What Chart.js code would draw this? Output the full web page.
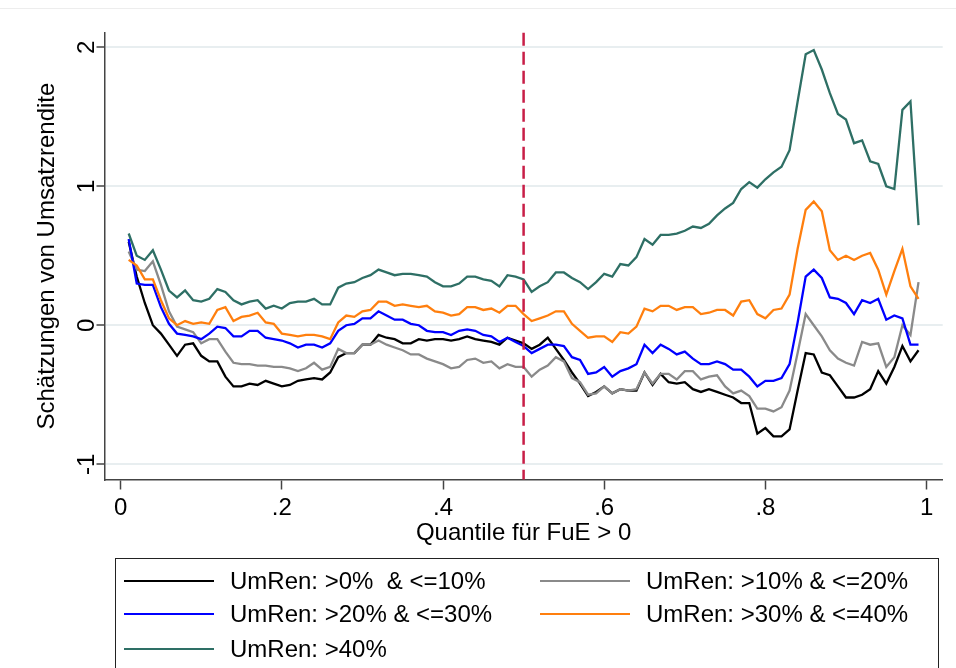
<!DOCTYPE html>
<html>
<head>
<meta charset="utf-8">
<script src="https://cdn.jsdelivr.net/npm/chart.js@4.4.0/dist/chart.umd.min.js"></script>
<style>
body { margin: 0; background: #fff; }
#wrap { position: relative; width: 956px; height: 668px; overflow: hidden; font-family: "Liberation Sans", Arial, sans-serif; }
#topline { position: absolute; left: 0; top: 8px; width: 956px; height: 1px; background: #ededed; }
#box { position: absolute; left: 115px; top: 558px; width: 824px; height: 140px; border: 1.5px solid #222; box-sizing: border-box; }
.sw { position: absolute; width: 90px; height: 2.5px; }
.lbl { position: absolute; font-size: 24px; line-height: 1; white-space: pre; color: #000; transform: translateY(-50%); }
</style>
</head>
<body>
<div id="wrap">
  <div id="topline"></div>
  <canvas class="grafico" width="956" height="668"></canvas>
  <div id="box"></div>
</div>
<script>
const quantiles = [0.01,0.02,0.03,0.04,0.05,0.06,0.07,0.08,0.09,0.10,
  0.11,0.12,0.13,0.14,0.15,0.16,0.17,0.18,0.19,0.20,
  0.21,0.22,0.23,0.24,0.25,0.26,0.27,0.28,0.29,0.30,
  0.31,0.32,0.33,0.34,0.35,0.36,0.37,0.38,0.39,0.40,
  0.41,0.42,0.43,0.44,0.45,0.46,0.47,0.48,0.49,0.50,
  0.51,0.52,0.53,0.54,0.55,0.56,0.57,0.58,0.59,0.60,
  0.61,0.62,0.63,0.64,0.65,0.66,0.67,0.68,0.69,0.70,
  0.71,0.72,0.73,0.74,0.75,0.76,0.77,0.78,0.79,0.80,
  0.81,0.82,0.83,0.84,0.85,0.86,0.87,0.88,0.89,0.90,
  0.91,0.92,0.93,0.94,0.95,0.96,0.97,0.98,0.99];

// Schätzungen je Umsatzrendite-Klasse
const ren0bis10 = [0.60,0.35,0.16,0.00,-0.06,-0.14,-0.22,-0.14,-0.13,-0.22,
  -0.26,-0.26,-0.37,-0.44,-0.44,-0.42,-0.43,-0.40,-0.42,-0.44,
  -0.43,-0.40,-0.39,-0.38,-0.39,-0.34,-0.23,-0.20,-0.20,-0.14,
  -0.14,-0.07,-0.09,-0.10,-0.13,-0.13,-0.10,-0.11,-0.10,-0.10,
  -0.11,-0.10,-0.08,-0.10,-0.11,-0.12,-0.14,-0.09,-0.11,-0.13,
  -0.17,-0.14,-0.09,-0.17,-0.25,-0.34,-0.42,-0.51,-0.48,-0.44,
  -0.49,-0.46,-0.47,-0.47,-0.34,-0.43,-0.35,-0.41,-0.42,-0.41,
  -0.46,-0.48,-0.46,-0.48,-0.50,-0.52,-0.56,-0.56,-0.78,-0.74,
  -0.80,-0.80,-0.75,-0.47,-0.20,-0.21,-0.34,-0.36,-0.44,-0.52,
  -0.52,-0.50,-0.46,-0.33,-0.42,-0.30,-0.15,-0.26,-0.18];
const ren10bis20 = [0.53,0.40,0.39,0.46,0.29,0.10,-0.01,-0.03,-0.05,-0.13,
  -0.10,-0.10,-0.19,-0.27,-0.28,-0.28,-0.29,-0.29,-0.30,-0.30,
  -0.31,-0.33,-0.31,-0.27,-0.32,-0.30,-0.17,-0.20,-0.20,-0.14,
  -0.14,-0.11,-0.14,-0.16,-0.18,-0.21,-0.21,-0.24,-0.26,-0.28,
  -0.31,-0.30,-0.25,-0.24,-0.27,-0.26,-0.31,-0.28,-0.30,-0.30,
  -0.37,-0.32,-0.29,-0.23,-0.26,-0.38,-0.41,-0.50,-0.49,-0.44,
  -0.49,-0.46,-0.47,-0.46,-0.34,-0.42,-0.35,-0.35,-0.39,-0.33,
  -0.33,-0.39,-0.37,-0.36,-0.44,-0.49,-0.47,-0.51,-0.60,-0.60,
  -0.62,-0.59,-0.47,-0.20,0.08,0.00,-0.08,-0.18,-0.24,-0.27,
  -0.29,-0.12,-0.14,-0.13,-0.30,-0.23,0.00,-0.07,0.31];
const ren20bis30 = [0.62,0.30,0.29,0.29,0.13,0.01,-0.06,-0.07,-0.08,-0.10,
  -0.06,-0.01,-0.02,-0.08,-0.08,-0.04,-0.04,-0.09,-0.10,-0.11,
  -0.13,-0.16,-0.14,-0.14,-0.16,-0.13,-0.04,0.00,0.01,0.05,
  0.05,0.10,0.07,0.04,0.04,0.01,0.00,-0.04,-0.05,-0.05,
  -0.07,-0.04,-0.03,-0.04,-0.07,-0.08,-0.12,-0.09,-0.12,-0.15,
  -0.20,-0.17,-0.14,-0.14,-0.15,-0.23,-0.25,-0.35,-0.34,-0.30,
  -0.37,-0.33,-0.31,-0.28,-0.14,-0.20,-0.14,-0.17,-0.21,-0.19,
  -0.24,-0.28,-0.28,-0.26,-0.28,-0.32,-0.32,-0.37,-0.44,-0.40,
  -0.40,-0.38,-0.28,0.02,0.35,0.40,0.34,0.20,0.19,0.16,
  0.08,0.18,0.16,0.19,0.04,0.07,0.05,-0.14,-0.14];
const ren30bis40 = [0.47,0.43,0.33,0.33,0.18,0.05,0.00,0.03,0.01,0.02,
  0.01,0.11,0.13,0.03,0.06,0.07,0.09,0.02,0.01,-0.06,
  -0.07,-0.08,-0.07,-0.07,-0.08,-0.10,0.02,0.07,0.06,0.10,
  0.11,0.17,0.17,0.14,0.15,0.14,0.13,0.14,0.10,0.09,
  0.07,0.08,0.13,0.13,0.11,0.12,0.09,0.14,0.14,0.08,
  0.03,0.05,0.07,0.10,0.10,0.01,-0.04,-0.09,-0.08,-0.08,
  -0.12,-0.05,-0.06,-0.01,0.12,0.10,0.14,0.14,0.11,0.13,
  0.13,0.08,0.09,0.11,0.11,0.07,0.17,0.18,0.08,0.05,
  0.11,0.12,0.22,0.55,0.83,0.89,0.82,0.54,0.47,0.50,
  0.47,0.50,0.52,0.40,0.22,0.39,0.55,0.28,0.19];
const ren40 = [0.66,0.50,0.47,0.54,0.40,0.25,0.20,0.25,0.18,0.17,
  0.19,0.26,0.24,0.18,0.15,0.17,0.18,0.12,0.14,0.12,
  0.16,0.17,0.17,0.19,0.15,0.15,0.27,0.30,0.31,0.34,
  0.36,0.40,0.38,0.36,0.37,0.37,0.36,0.35,0.31,0.28,
  0.28,0.30,0.35,0.35,0.33,0.32,0.28,0.36,0.35,0.33,
  0.24,0.28,0.31,0.38,0.38,0.34,0.31,0.26,0.31,0.37,
  0.35,0.44,0.43,0.49,0.62,0.58,0.65,0.65,0.66,0.68,
  0.71,0.70,0.73,0.79,0.84,0.88,0.98,1.03,0.99,1.05,
  1.10,1.14,1.26,1.61,1.95,1.98,1.84,1.67,1.52,1.48,
  1.31,1.33,1.18,1.16,1.00,0.98,1.55,1.61,0.72];

const labels = ["UmRen: >0%  & <=10%", "UmRen: >10% & <=20%", "UmRen: >20% & <=30%", "UmRen: >30% & <=40%", "UmRen: >40%"];
const series = [ren0bis10, ren10bis20, ren20bis30, ren30bis40, ren40];
const colors = ["#000000", "#8a8a8a", "#0000ff", "#ff7f0e", "#2e6f65"];

const xTicks = [0, 0.2, 0.4, 0.6, 0.8, 1];
const xTickLabels = ["0", ".2", ".4", ".6", ".8", "1"];
const yTicks = [-1, 0, 1, 2];
const yTickLabels = ["-1", "0", "1", "2"];
const refLine = 0.5;

const canvas = document.querySelector('.grafico');
const FONT = '"Liberation Sans", Arial, sans-serif';

const extras = {
    id: 'extras',
    afterDatasetsDraw(chart) {
        const ctx = chart.ctx;
        const x = chart.scales.x.getPixelForValue(refLine);
        const area = chart.chartArea;
        ctx.save();
        ctx.strokeStyle = '#c81e47';
        ctx.lineWidth = 2.5;
        ctx.setLineDash([13, 6]);
        ctx.beginPath();
        ctx.moveTo(x, area.top);
        ctx.lineTo(x, area.bottom);
        ctx.stroke();
        ctx.restore();
    },
    afterDraw(chart) {
        const ctx = chart.ctx;
        const ys = chart.scales.y;
        ctx.save();
        ctx.font = '24px ' + FONT;
        ctx.fillStyle = '#000';
        ctx.textAlign = 'center';
        ctx.textBaseline = 'middle';
        yTicks.forEach((v, i) => {
            ctx.save();
            ctx.translate(87, ys.getPixelForValue(v));
            ctx.rotate(-Math.PI / 2);
            ctx.fillText(yTickLabels[i], 0, 0);
            ctx.restore();
        });
        ctx.restore();
    }
};

const config = {
    type: 'line',
    data: {
        datasets: series.map((s, i) => ({
            label: labels[i],
            data: s.map((v, j) => ({ x: quantiles[j], y: v })),
            borderColor: colors[i],
            backgroundColor: colors[i],
            borderWidth: 2.3,
            pointRadius: 0,
            tension: 0,
            order: series.length - i
        }))
    },
    options: {
        responsive: false,
        animation: false,
        layout: { padding: { left: 0, top: 32.7, right: 13.3, bottom: 108.5 } },
        plugins: { legend: { display: false }, tooltip: { enabled: false } },
        scales: {
            x: {
                type: 'linear',
                min: -0.02,
                max: 1.02,
                afterBuildTicks: s => { s.ticks = xTicks.map(v => ({ value: v })); },
                afterFit: s => { s.height = 80; },
                ticks: {
                    callback: (v, i) => xTickLabels[i],
                    font: { family: FONT, size: 24 },
                    color: '#000',
                    padding: 4,
                    maxRotation: 0,
                    minRotation: 0
                },
                grid: { drawOnChartArea: false, drawTicks: true, tickLength: 10, tickColor: '#444', tickWidth: 1.5 },
                border: { display: true, color: '#444', width: 1.5 },
                title: {
                    display: true,
                    text: 'Quantile für FuE > 0',
                    font: { family: FONT, size: 24 },
                    color: '#000',
                    padding: { top: 0, bottom: 12 }
                }
            },
            y: {
                type: 'linear',
                min: -1.11,
                max: 2.105,
                afterBuildTicks: s => { s.ticks = yTicks.map(v => ({ value: v })); },
                afterFit: s => { s.width = 104.5; },
                ticks: { display: false },
                grid: { color: '#e8eef0', lineWidth: 2, drawTicks: true, tickLength: 8, tickColor: '#444', tickWidth: 1.5 },
                border: { display: true, color: '#444', width: 1.5 },
                title: {
                    display: true,
                    text: 'Schätzungen von Umsatzrendite',
                    font: { family: FONT, size: 24 },
                    color: '#000',
                    padding: { top: 33, bottom: 0 }
                }
            }
        }
    },
    plugins: [extras]
};

const myChart = new Chart(canvas, config);

// Legende im Stata-Stil, aus den Datensätzen erzeugt
const wrap = document.getElementById('wrap');
const legendCols = [124, 540];
const legendRows = [581, 614, 649];
myChart.data.datasets.forEach((ds, i) => {
    const lx = legendCols[i % 2];
    const ly = legendRows[Math.floor(i / 2)];
    const sw = document.createElement('div');
    sw.className = 'sw';
    sw.style.left = lx + 'px';
    sw.style.top = (ly - 1.25) + 'px';
    sw.style.background = ds.borderColor;
    wrap.appendChild(sw);
    const lbl = document.createElement('span');
    lbl.className = 'lbl';
    lbl.style.left = (lx + 106) + 'px';
    lbl.style.top = ly + 'px';
    lbl.textContent = ds.label;
    wrap.appendChild(lbl);
});
</script>
</body>
</html>
